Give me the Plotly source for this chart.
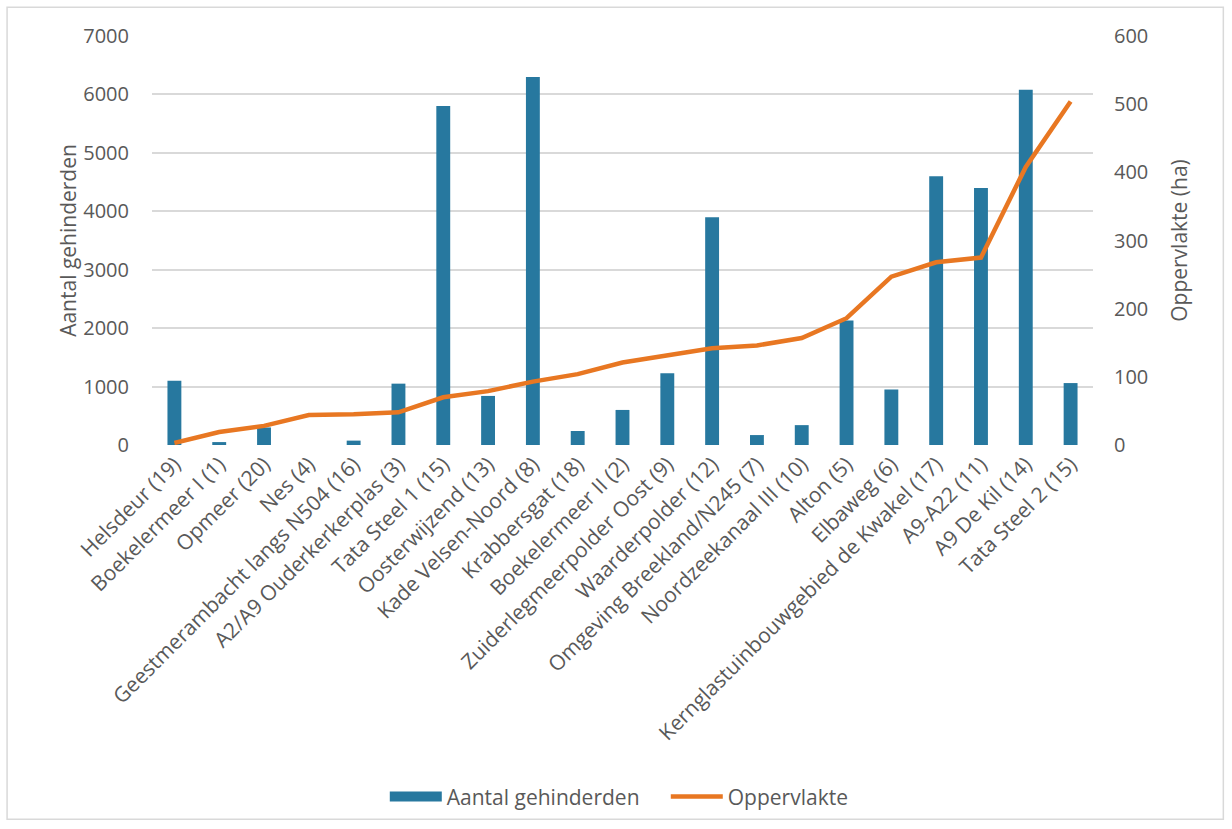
import plotly.graph_objects as go

locaties = [
    "Helsdeur (19)", "Boekelermeer I (1)", "Opmeer (20)", "Nes (4)",
    "Geestmerambacht langs N504 (16)", "A2/A9 Ouderkerkerplas (3)",
    "Tata Steel 1 (15)", "Oosterwijzend (13)", "Kade Velsen-Noord (8)",
    "Krabbersgat (18)", "Boekelermeer II (2)", "Zuiderlegmeerpolder Oost (9)",
    "Waarderpolder (12)", "Omgeving Breekland/N245 (7)",
    "Noordzeekanaal III (10)", "Alton (5)", "Elbaweg (6)",
    "Kernglastuinbouwgebied de Kwakel (17)", "A9-A22 (11)", "A9 De Kil (14)",
    "Tata Steel 2 (15)",
]
gehinderden = [1100, 50, 300, 0, 75, 1050, 5800, 840, 6300, 240, 600, 1230,
               3900, 170, 340, 2130, 950, 4600, 4400, 6080, 1060]
oppervlakte = [3, 19, 28, 44, 45, 48, 70, 79, 93, 104, 121, 132, 142, 146,
               157, 186, 247, 268, 275, 408, 504]

BLAUW = "#27789F"
ORANJE = "#E87722"
GRIJS = "#595959"
FONT = "Open Sans"

fig = go.Figure()
fig.add_trace(go.Bar(
    x=locaties, y=gehinderden, name="Aantal gehinderden",
    marker=dict(color=BLAUW, line=dict(width=0)),
    showlegend=False,
))
fig.add_trace(go.Scatter(
    x=locaties, y=oppervlakte, name="Oppervlakte", yaxis="y2",
    mode="lines", line=dict(color=ORANJE, width=4.5),
    showlegend=False,
))
# legend entries
fig.add_trace(go.Scatter(
    x=[None], y=[None], name="Aantal gehinderden", mode="lines",
    line=dict(color=BLAUW, width=12),
))
fig.add_trace(go.Scatter(
    x=[None], y=[None], name="Oppervlakte", mode="lines",
    line=dict(color=ORANJE, width=4.5),
))

fig.update_layout(
    width=1232, height=829,
    margin=dict(l=152, r=139, t=36, b=380),
    paper_bgcolor="white", plot_bgcolor="white",
    font=dict(family=FONT, size=20, color=GRIJS),
    bargap=0.69,
    xaxis=dict(
        tickangle=-45, tickfont=dict(size=21, color=GRIJS),
        showgrid=False, showline=False, ticks="", ticklabelstandoff=2,
    ),
    yaxis=dict(
        range=[0, 7000], dtick=1000, showgrid=True, gridcolor="#D9D9D9",
        gridwidth=1.5, zeroline=False, ticks="", ticklabelstandoff=22,
        tickfont=dict(size=20, color=GRIJS),
        title=dict(text="Aantal gehinderden", font=dict(size=21, color=GRIJS),
                   standoff=0),
    ),
    yaxis2=dict(
        range=[0, 600], dtick=100, overlaying="y", side="right",
        showgrid=False, zeroline=False, ticks="", ticklabelstandoff=20,
        tickfont=dict(size=20, color=GRIJS),
        title=dict(text="Oppervlakte (ha)", font=dict(size=21, color=GRIJS),
                   standoff=24),
    ),
    legend=dict(
        orientation="h", x=0.546, xanchor="center", y=-0.86, yanchor="middle",
        font=dict(size=21, color=GRIJS), itemwidth=52,
        entrywidth=214, traceorder="normal",
    ),
    shapes=[dict(
        type="rect", xref="paper", yref="paper",
        x0=-0.154, x1=1.1385, y0=-0.915, y1=1.07,
        line=dict(color="#D9D9D9", width=1.5), fillcolor="rgba(0,0,0,0)",
    )],
)

fig.write_html("out.html")
